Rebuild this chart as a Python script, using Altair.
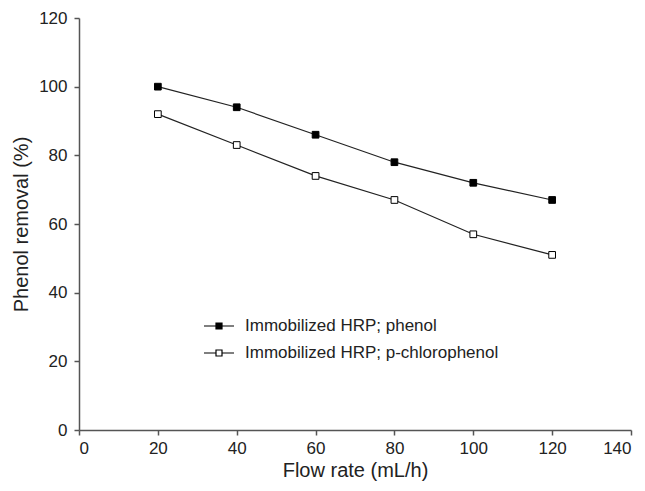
import altair as alt
import pandas as pd

flow_rate = [20, 40, 60, 80, 100, 120]
phenol = [100, 94, 86, 78, 72, 67]
chlorophenol = [92, 83, 74, 67, 57, 51]
series_names = ["Immobilized HRP; phenol", "Immobilized HRP; p-chlorophenol"]

rows = []
for name, vals in zip(series_names, [phenol, chlorophenol]):
    for x, y in zip(flow_rate, vals):
        rows.append({"Flow rate": x, "Removal": y, "Series": name})
df = pd.DataFrame(rows)

FONT = "Liberation Sans"

x_enc = alt.X("Flow rate:Q",
              scale=alt.Scale(domain=[0, 140], nice=False, zero=True),
              axis=alt.Axis(values=list(range(0, 141, 20)), title="Flow rate (mL/h)",
                            grid=False, labelPadding=5, titlePadding=4))
y_enc = alt.Y("Removal:Q",
              scale=alt.Scale(domain=[0, 120], nice=False),
              axis=alt.Axis(values=list(range(0, 121, 20)), title="Phenol removal (%)",
                            grid=False, labelPadding=7, titlePadding=7))

base = alt.Chart(df)

lines = base.mark_line(color="#222222", strokeWidth=1.2).encode(
    x=x_enc, y=y_enc, detail="Series:N"
)

legend_path = "M-1.5,0L-0.3,0M0.3,0L1.5,0M-0.3,-0.3L0.3,-0.3L0.3,0.3L-0.3,0.3Z"

points = base.mark_point(shape="square", size=45, filled=True, stroke="black",
                         strokeWidth=1, opacity=1).encode(
    x=x_enc, y=y_enc,
    fill=alt.Fill("Series:N",
                  scale=alt.Scale(domain=series_names, range=["black", "white"]),
                  legend=alt.Legend(title=None, orient="none", legendX=129, legendY=297,
                                    symbolType=legend_path, symbolSize=400,
                                    symbolStrokeColor="black", symbolStrokeWidth=1.2,
                                    labelFontSize=17, labelFont=FONT, labelColor="#222222",
                                    labelOffset=15, rowPadding=8, padding=0,
                                    labelLimit=400))
)

chart = (lines + points).properties(
    width=552, height=412,
    autosize=alt.AutoSizeParams(type="none"),
    padding={"left": 71, "top": 10, "right": 6, "bottom": 53},
).configure_view(stroke=None).configure_axis(
    domainColor="#555555", domainWidth=1.5, tickColor="#555555", tickWidth=1.5,
    tickSize=5, labelFont=FONT, titleFont=FONT, labelFontSize=17, titleFontSize=20,
    labelColor="#222222", titleColor="#222222", titleFontWeight="normal",
)

chart.save("out.html", embed_options={"renderer": "svg", "actions": False})
